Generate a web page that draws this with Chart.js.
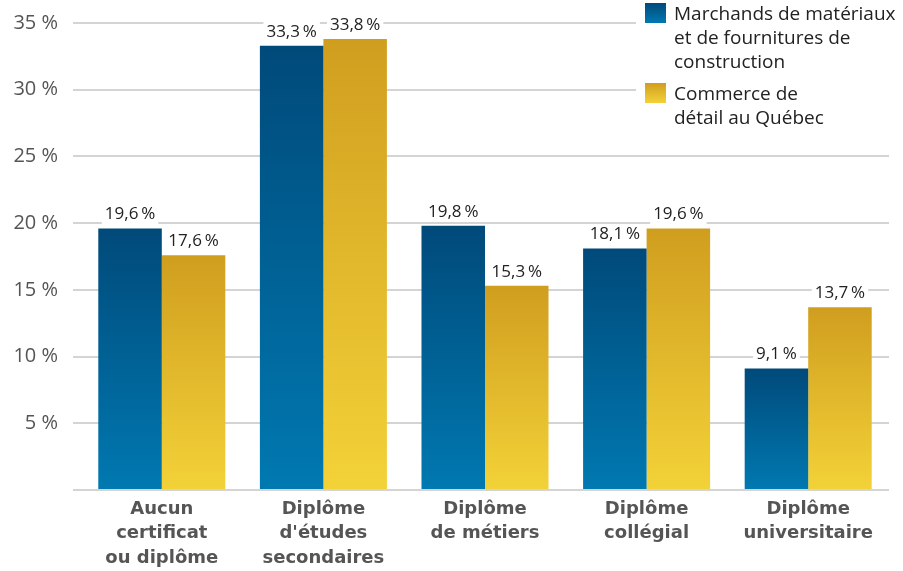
<!DOCTYPE html>
<html>
<head>
<meta charset="utf-8">
<script src="https://cdn.jsdelivr.net/npm/chart.js@4"></script>
<style>
  body { margin: 0; background: #fff; }
</style>
</head>
<body>
<canvas id="chart" width="903" height="571"></canvas>
<script>
const categories = [
  ["Aucun", "certificat", "ou diplôme"],
  ["Diplôme", "d'études", "secondaires"],
  ["Diplôme", "de métiers"],
  ["Diplôme", "collégial"],
  ["Diplôme", "universitaire"]
];
const seriesNames = [
  ["Marchands de matériaux", "et de fournitures de", "construction"],
  ["Commerce de", "détail au Québec"]
];
const marchands = [19.6, 33.3, 19.8, 18.1, 9.1];
const commerce = [17.6, 33.8, 15.3, 19.6, 13.7];
const yTicks = [5, 10, 15, 20, 25, 30, 35];

const FONT = "'Open Sans', sans-serif";
const BLUE = ["#004a7a", "#0079b1"];
const GOLD = ["#d09e1f", "#f3d238"];

// vertical gradient spanning just the bar
function barFill(colors) {
  return (ctx) => {
    const chart = ctx.chart;
    if (!chart.chartArea || ctx.raw == null) return colors[0];
    const y = chart.scales.y;
    const top = y.getPixelForValue(ctx.raw);
    const bottom = y.getPixelForValue(0);
    const g = chart.ctx.createLinearGradient(0, top, 0, bottom);
    g.addColorStop(0, colors[0]);
    g.addColorStop(1, colors[1]);
    return g;
  };
}

function fmt(v) {
  return v.toFixed(1).replace(".", ",") + "\u2009%";
}

// value labels with a white box behind them
const valueLabels = {
  id: "valueLabels",
  afterDatasetsDraw(chart) {
    const c = chart.ctx;
    c.save();
    c.font = "17px " + FONT;
    c.textAlign = "center";
    c.textBaseline = "middle";
    chart.data.datasets.forEach((ds, i) => {
      chart.getDatasetMeta(i).data.forEach((bar, j) => {
        const text = fmt(ds.data[j]);
        const w = c.measureText(text).width + 6;
        const y = bar.y - 14;
        c.fillStyle = "#fff";
        c.fillRect(bar.x - w / 2, y - 10, w, 20);
        c.fillStyle = "#222";
        c.fillText(text, bar.x, y);
      });
    });
    c.restore();
  }
};

// legend in the upper right corner
const cornerLegend = {
  id: "cornerLegend",
  afterDraw(chart) {
    const c = chart.ctx;
    c.save();
    c.fillStyle = "#fff";
    c.fillRect(636, 0, 267, 136);
    const items = [
      { colors: BLUE, lines: seriesNames[0], top: 3 },
      { colors: GOLD, lines: seriesNames[1], top: 83 }
    ];
    c.font = "19px " + FONT;
    c.textBaseline = "middle";
    c.textAlign = "left";
    items.forEach((it) => {
      const g = c.createLinearGradient(0, it.top, 0, it.top + 20);
      g.addColorStop(0, it.colors[0]);
      g.addColorStop(1, it.colors[1]);
      c.fillStyle = g;
      c.fillRect(645, it.top, 21, 20);
      c.fillStyle = "#222";
      it.lines.forEach((line, k) => {
        c.fillText(line, 674, it.top + 12 + k * 24);
      });
    });
    c.restore();
  }
};

new Chart(document.getElementById("chart"), {
  type: "bar",
  data: {
    labels: categories,
    datasets: [
      {
        label: seriesNames[0].join(" "),
        data: marchands,
        backgroundColor: barFill(BLUE)
      },
      {
        label: seriesNames[1].join(" "),
        data: commerce,
        backgroundColor: barFill(GOLD)
      }
    ]
  },
  options: {
    responsive: false,
    animation: false,
    categoryPercentage: 0.786,
    barPercentage: 1.0,
    layout: { padding: { top: 23, right: 14, left: 0, bottom: 0 } },
    plugins: {
      legend: { display: false },
      tooltip: { enabled: false }
    },
    scales: {
      x: {
        grid: { display: false },
        border: { display: false },
        ticks: {
          color: "#555",
          padding: -1,
          font: { family: "'DejaVu Sans', sans-serif", size: 18, weight: "bold", lineHeight: 1.36 },
          maxRotation: 0,
          autoSkip: false
        },
        afterFit(axis) { axis.height = 81; }
      },
      y: {
        min: 0,
        max: 35,
        border: { display: false },
        grid: { color: "#d4d4d4", lineWidth: 2, tickLength: 8 },
        afterBuildTicks(axis) {
          axis.ticks = [0].concat(yTicks).map((v) => ({ value: v }));
        },
        ticks: {
          color: "#555",
          padding: 15,
          font: { family: FONT, size: 20, lineHeight: 0.6 },
          callback: (v) => (v === 0 ? "" : v + " %")
        },
        afterFit(axis) { axis.width = 81; }
      }
    }
  },
  plugins: [valueLabels, cornerLegend]
});
</script>
</body>
</html>
